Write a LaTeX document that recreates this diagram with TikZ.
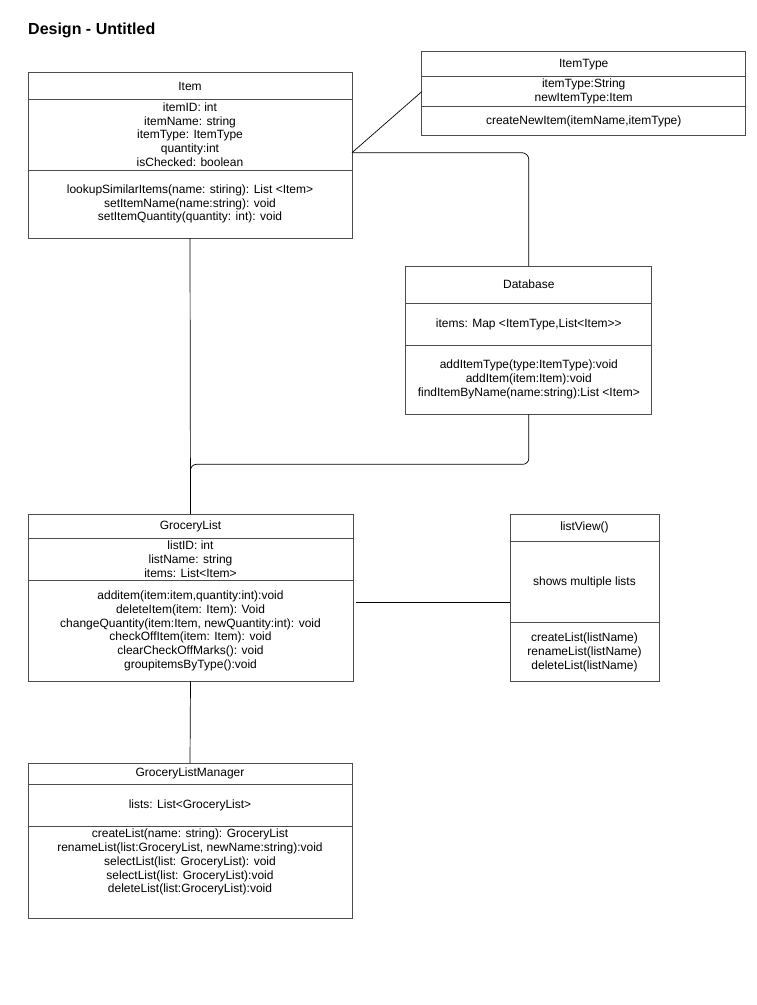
\documentclass[tikz,border=0pt]{standalone}
\usepackage{fontspec}
\setmainfont{Liberation Sans}
\usetikzlibrary{positioning}

\begin{document}
\begin{tikzpicture}[x=1pt, y=-1pt,
    every node/.style={font=\fontsize{12}{13.8}\selectfont},
    cls/.style={draw=black!70, line width=1pt, inner sep=0pt, outer sep=0pt, align=center},
    link/.style={draw=black, line width=0.7pt}]
  \useasboundingbox (0,0) rectangle (756,1005);
  \node[anchor=base west, inner sep=0pt, font=\fontsize{16}{18}\selectfont\bfseries] (title) at (28,34) {Design - Untitled};

  % Item
  \node[cls, minimum width=324pt, minimum height=26.6pt] (item) at (190,86) {Item};
  \node[cls, minimum width=324pt, minimum height=70.7pt, below=0pt of item] (itemAttr)
    {itemID: int\\itemName: string\\itemType: ItemType\\quantity:int\\isChecked: boolean};
  \node[cls, minimum width=324pt, minimum height=68pt, below=0pt of itemAttr] (itemOps)
    {lookupSimilarItems(name: stiring): List <Item>\\setItemName(name:string): void\\setItemQuantity(quantity: int): void};

  % ItemType
  \node[cls, minimum width=324pt, minimum height=25pt] (itemType) at (583.7,64.2) {ItemType};
  \node[cls, minimum width=324pt, minimum height=30pt, below=0pt of itemType] (itemTypeAttr)
    {itemType:String\\newItemType:Item};
  \node[cls, minimum width=324pt, minimum height=29pt, below=0pt of itemTypeAttr] (itemTypeOps)
    {createNewItem(itemName,itemType)};

  % Database
  \node[cls, minimum width=245.7pt, minimum height=37.3pt] (db) at (528.8,284.65) {Database};
  \node[cls, minimum width=245.7pt, minimum height=41.7pt, below=0pt of db] (dbAttr)
    {items: Map <ItemType,List<Item>{}>};
  \node[cls, minimum width=245.7pt, minimum height=69.3pt, below=0pt of dbAttr] (dbOps)
    {addItemType(type:ItemType):void\\addItem(item:Item):void\\findItemByName(name:string):List <Item>};

  % GroceryList
  \node[cls, minimum width=325pt, minimum height=24pt] (gl) at (190.5,526) {GroceryList};
  \node[cls, minimum width=325pt, minimum height=42pt, below=0pt of gl] (glAttr)
    {listID: int\\listName: string\\items: List<Item>};
  \node[cls, minimum width=325pt, minimum height=101.7pt, below=0pt of glAttr] (glOps)
    {additem(item:item,quantity:int):void\\deleteItem(item: Item): Void\\changeQuantity(item:Item, newQuantity:int): void\\checkOffItem(item: Item): void\\clearCheckOffMarks(): void\\groupitemsByType():void};

  % listView
  \node[cls, minimum width=149pt, minimum height=27.7pt] (lv) at (584.5,527.85) {listView()};
  \node[cls, minimum width=149pt, minimum height=81pt, below=0pt of lv] (lvAttr)
    {shows multiple lists};
  \node[cls, minimum width=149pt, minimum height=59pt, below=0pt of lvAttr] (lvOps)
    {createList(listName)\\renameList(listName)\\deleteList(listName)};

  % GroceryListManager
  \node[cls, minimum width=324pt, minimum height=21pt] (glm) at (190,773.5) {GroceryListManager};
  \node[cls, minimum width=324pt, minimum height=42pt, below=0pt of glm] (glmAttr)
    {lists: List<GroceryList>};
  \node[cls, minimum width=324pt, minimum height=92pt, below=0pt of glmAttr] (glmOps)
    {createList(name: string): GroceryList\\renameList(list:GroceryList, newName:string):void\\selectList(list: GroceryList): void\\selectList(list: GroceryList):void\\deleteList(list:GroceryList):void\\[8.2pt]\mbox{}};

  % connectors
  \coordinate (hub) at ([yshift=-18pt]itemAttr.east);
  \coordinate (lvLink) at ([yshift=-20pt]lvAttr.west);
  \draw[link] (hub) -- (itemTypeAttr.west);
  \draw[link, rounded corners=7pt] (hub) -| (db.north);
  \draw[link, rounded corners=6pt] (dbOps.south) -- ++(0,50) -| (gl.north);
  \draw[link] (itemOps.south) -- (gl.north);
  \draw[link, shorten <=3pt] (lvLink -| glOps.east) -- (lvLink);
  \draw[link] (glOps.south) -- (glm.north);
\end{tikzpicture}
\end{document}
